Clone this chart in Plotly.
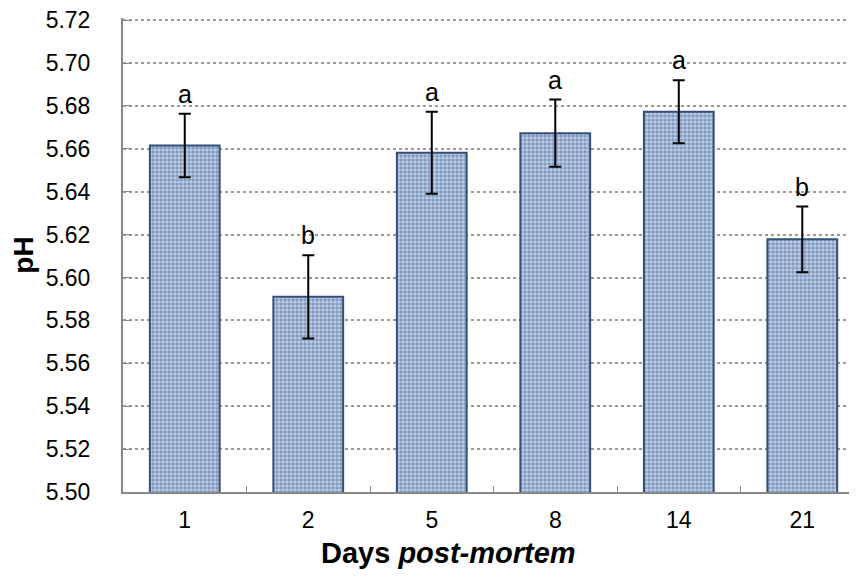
import plotly.graph_objects as go

days = ["1", "2", "5", "8", "14", "21"]
ph_mean = [5.6616, 5.5910, 5.6582, 5.6673, 5.6773, 5.6178]
ph_err = [0.0148, 0.0194, 0.0191, 0.0157, 0.0147, 0.0153]
letters = ["a", "b", "a", "a", "a", "b"]
y_ticks = [5.50, 5.52, 5.54, 5.56, 5.58, 5.60, 5.62, 5.64, 5.66, 5.68, 5.70, 5.72]

FONT = "Arial, Liberation Sans, sans-serif"

fig = go.Figure()
fig.add_trace(go.Bar(
    x=days, y=ph_mean,
    marker=dict(
        color="#c2d0e6",
        line=dict(color="#34507a", width=2),
        pattern=dict(shape=".", fgcolor="#46679e", size=4, solidity=0.62),
    ),
    error_y=dict(type="data", array=ph_err, visible=True, color="black",
                 thickness=2, width=6),
    width=0.565,
    showlegend=False,
))

for i, (m, e, l) in enumerate(zip(ph_mean, ph_err, letters)):
    fig.add_annotation(x=i, y=m + e, text=l, showarrow=False,
                       yanchor="bottom", yshift=4,
                       font=dict(family=FONT, size=25, color="black"))

fig.add_annotation(xref="paper", yref="paper", x=0.443, y=0, yshift=-61,
                   xanchor="center", yanchor="middle", showarrow=False,
                   text="<b>Days <i>post-mortem</i></b>",
                   font=dict(family=FONT, size=29, color="black"))

fig.update_layout(
    width=849, height=569,
    margin=dict(l=115, r=0, t=10, b=85),
    paper_bgcolor="white", plot_bgcolor="white",
    font=dict(family=FONT, size=23, color="black"),
    xaxis=dict(
        type="category", range=[-0.5, 5.443], automargin=False,
        showline=True, linecolor="#888888", linewidth=2,
        ticks="inside", tickson="boundaries", ticklen=6, tickcolor="#888888",
        ticklabelstandoff=6,
        tickfont=dict(size=23),
    ),
    yaxis=dict(
        range=[5.50, 5.721], tickvals=y_ticks, tickformat=".2f", automargin=False,
        showline=True, linecolor="#888888", linewidth=2,
        ticks="inside", ticklen=8, tickcolor="#888888",
        ticklabelstandoff=26, ticklabeloverflow="allow",
        showgrid=True, gridcolor="#999999", griddash="dot", gridwidth=1.5,
        zeroline=False,
        tickfont=dict(size=23),
        title=dict(text="<b>pH</b>", font=dict(size=28), standoff=8),
    ),
)

fig.write_html("out.html")
